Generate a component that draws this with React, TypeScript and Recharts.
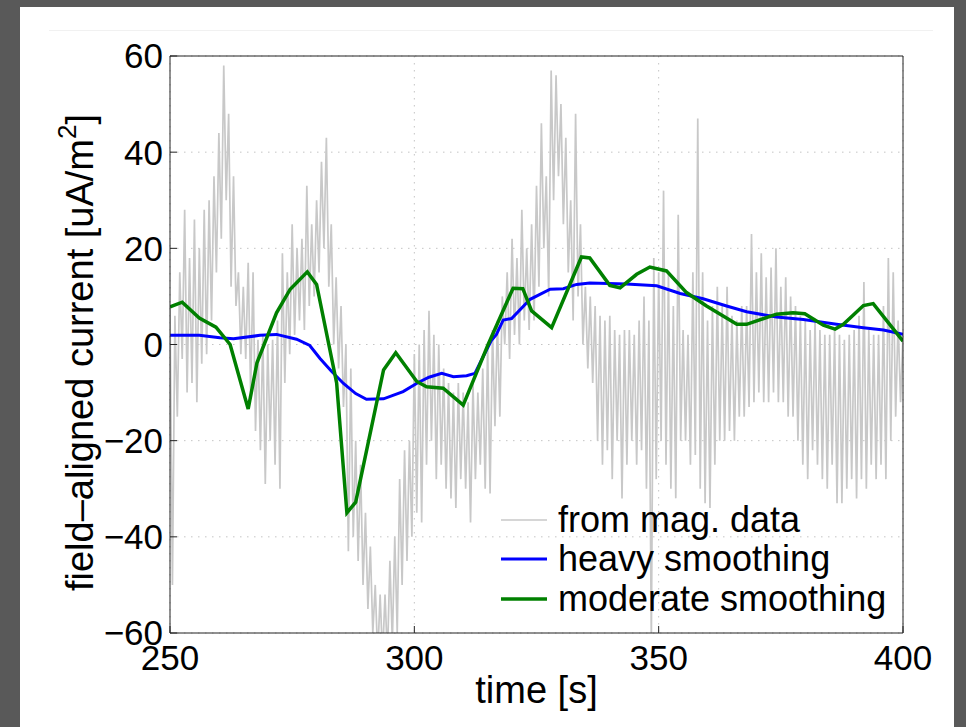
import { CartesianGrid, Legend, Line, LineChart, XAxis, YAxis } from 'recharts'

const FONT = '"Liberation Sans", Arial, Helvetica, sans-serif'

// raw current from magnetometer data: upper / lower swing of each 1 s slot, starting at 250 s
const magStart = 250
const magHi = [
  8, 6, 15, 28, 18, 26, 20, 28, 30, 35,
  44, 58, 48, 35, 15, 12, 17, 15, 1, 2,
  0, 1, 5, 19, 15, 25, 20, 22, 33, 25,
  30, 38, 43, 25, 14, 8, 0, -5, -20, -25,
  -35, -42, -50, -52, -52, -45, -40, -28, -22, -20,
  -2, 0, 3, 7, 2, 0, -5, -8, -10, -8,
  -10, -12, -8, -10, -5, 0, 3, 5, 10, 15,
  22, 18, 28, 20, 25, 33, 46, 35, 57, 56,
  50, 43, 30, 48, 25, 12, 10, 8, 6, 5,
  6, 3, 2, 3, 3, 2, 5, 10, 5, 18,
  15, 32, 15, 8, 27, 3, 2, 15, 47, 15,
  5, 8, 12, 8, 12, 6, 5, 8, 8, 23,
  15, 19, 14, 16, 20, 12, 14, 10, 8, 6,
  5, 3, 5, 3, 2, 2, 3, 2, 1, 2,
  3, 6, 13, 3, 2, 2, 8, 18, 15, 5,
  2,
]
const magLo = [
  -50, -15, -3, -10, -8, -12, -4, -2, 5, 15,
  22, 30, 12, 8, -2, -3, -10, -18, -22, -29,
  -20, -25, -30, -8, -2, 2, 5, 3, 8, 10,
  15, 20, 12, 0, -5, -13, -43, -40, -45, -50,
  -55, -60, -65, -65, -65, -62, -60, -50, -45, -40,
  -35, -37, -25, -20, -28, -25, -30, -32, -34, -28,
  -30, -37, -28, -25, -30, -31, -17, -15, 0, -3,
  2, 0, 5, 3, 5, 12, 20, 10, 30, 35,
  25, 15, 5, 10, 0, -5, -8, -20, -25, -22,
  -28, -20, -32, -25, -20, -25, -22, -30, -62, -28,
  -20, -25, -30, -32, -20, -20, -25, -23, -30, -33,
  -34, -25, -20, -20, -18, -20, -15, -15, -13, -12,
  -10, -12, -12, -10, -12, -12, -15, -15, -20, -25,
  -28, -22, -25, -28, -30, -25, -33, -33, -30, -28,
  -32, -28, -30, -25, -28, -25, -28, -20, -15, -12,
  -8,
]

const heavyTime = [
  250, 256, 260.2, 263, 268.4, 271.8, 275.9, 278.6, 280.7, 283, 285.5, 288, 290.2, 293.7,
  297.7, 300.8, 303, 305.6, 308, 310.7, 312.4, 314.1, 315.8, 316.8, 318.2, 319.9, 323.7,
  327.8, 330.5, 333.2, 335.9, 343.4, 349.6, 354.4, 359.1, 363.9, 368, 374.1, 379.6, 386.4,
  391.9, 396, 400,
]
const heavyValue = [
  1.9, 1.9, 1.4, 1.2, 1.9, 2.1, 1.1, -0.2, -2.9, -5.5, -8.1, -10.2, -11.4, -11.3,
  -9.8, -7.9, -6.8, -6, -6.7, -6.5, -6, -2.5, 0.9, 2.1, 5.1, 5.4, 9.4,
  11.5, 11.6, 12.5, 12.8, 12.6, 12.2, 10.6, 9.5, 8, 6.8, 5.7, 5.2, 4.2,
  3.5, 3, 2.1,
]

const moderateTime = [
  250, 252.5, 256, 259.4, 262.3, 266, 267.8, 271.8, 274.6, 278.1, 280, 284.1, 286.2, 288,
  293.7, 296.2, 300.5, 302.5, 305.9, 310, 315.1, 320.2, 322.2, 324, 328.1, 334.2, 335.9,
  340, 342.1, 345.5, 348.2, 351.6, 355.7, 359.8, 366, 368, 374.1, 377.5, 379.9, 383.7,
  386.1, 387.8, 391.9, 393.9, 400,
]
const moderateValue = [
  7.8, 8.8, 5.5, 3.6, 0, -13.4, -3.8, 6.6, 11.5, 15.1, 12.5, -8, -35, -32.8,
  -5.3, -1.7, -7.7, -8.8, -9.1, -12.6, 0, 11.7, 11.6, 7, 3.5, 18.2, 18,
  12.3, 11.8, 14.6, 16.1, 15.3, 10.8, 8, 4.2, 4.2, 6.3, 6.6, 6.4, 4,
  3.2, 4.2, 8.1, 8.5, 0.7,
]

const xTicks = [250, 300, 350, 400]
const yTicks = [-60, -40, -20, 0, 20, 40, 60]

const magData = magHi.flatMap((hi, i) => [
  { t: magStart + i, v: hi },
  { t: magStart + i + 0.5, v: magLo[i] },
])
const heavyData = heavyTime.map((t, i) => ({ t, v: heavyValue[i] }))
const moderateData = moderateTime.map((t, i) => ({ t, v: moderateValue[i] }))

const minus = (v: number) => String(v).replace('-', '\u2212')

function LegendBox({ payload }: any) {
  return (
    <div style={{ fontFamily: FONT, fontSize: 36, color: '#000' }}>
      {(payload || []).map((entry: any) => (
        <div key={entry.value} style={{ display: 'flex', alignItems: 'center', height: 39.5 }}>
          <svg width={47} height={8}>
            <line
              x1={0}
              y1={4}
              x2={46}
              y2={4}
              stroke={entry.color}
              strokeWidth={entry.payload?.strokeWidth ?? 2}
            />
          </svg>
          <span style={{ marginLeft: 10, lineHeight: 1 }}>{entry.value}</span>
        </div>
      ))}
    </div>
  )
}

function YTitle({ viewBox }: any) {
  const x = viewBox.x + 10
  const y = viewBox.y + viewBox.height / 2 + 8
  return (
    <text
      x={x}
      y={y}
      transform={`rotate(-90, ${x}, ${y})`}
      textAnchor="middle"
      dominantBaseline="central"
      fontFamily={FONT}
      fontSize={38}
      fill="#000"
    >
      field–aligned current [uA/m<tspan dy={-13} fontSize={26}>2</tspan>
      <tspan dy={13}>]</tspan>
    </text>
  )
}

function XTitle({ viewBox }: any) {
  return (
    <text
      x={viewBox.x + viewBox.width / 2}
      y={viewBox.y + 70}
      textAnchor="middle"
      fontFamily={FONT}
      fontSize={38}
      fill="#000"
    >
      time [s]
    </text>
  )
}

export default function App() {
  const tickStyle = { fontSize: 35, fill: '#000', fontFamily: FONT }
  return (
    <div style={{ position: 'absolute', left: 0, top: 0, width: 966, height: 727, background: '#595959', overflow: 'hidden' }}>
      <div style={{ position: 'absolute', left: 20, top: 7, width: 934, height: 720, background: '#fff' }} />
      <div style={{ position: 'absolute', left: 49, top: 30, width: 884, height: 1, background: '#f1f1f1' }} />
      <div style={{ position: 'absolute', left: 0, top: 0 }}>
        <LineChart width={966} height={727} margin={{ top: 55, right: 62, bottom: 34, left: 70 }}>
          <CartesianGrid stroke="#c4c4c4" strokeDasharray="1.5 5.5" />
          <XAxis
            dataKey="t"
            type="number"
            domain={[250, 400]}
            ticks={xTicks}
            interval={0}
            allowDataOverflow
            height={60}
            tickSize={-7}
            tickMargin={19}
            tick={tickStyle}
            stroke="#222"
            label={<XTitle />}
          />
          <XAxis
            xAxisId="top"
            orientation="top"
            type="number"
            domain={[250, 400]}
            ticks={xTicks}
            interval={0}
            height={1}
            tickSize={-7}
            tick={false}
            stroke="#222"
          />
          <YAxis
            type="number"
            domain={[-60, 60]}
            ticks={yTicks}
            interval={0}
            allowDataOverflow
            width={100}
            tickSize={-7}
            tickMargin={14}
            tick={tickStyle}
            tickFormatter={minus}
            stroke="#222"
            label={<YTitle />}
          />
          <YAxis
            yAxisId="r"
            orientation="right"
            type="number"
            domain={[-60, 60]}
            ticks={yTicks}
            interval={0}
            width={1}
            tickSize={-7}
            tick={false}
            stroke="#222"
          />
          <Legend
            layout="vertical"
            align="center"
            verticalAlign="middle"
            content={<LegendBox />}
            wrapperStyle={{ left: 501, top: 500, width: 440 }}
          />
          <Line
            data={magData}
            dataKey="v"
            name="from mag. data"
            stroke="#c8c8c8"
            strokeWidth={1.7}
            dot={false}
            activeDot={false}
            isAnimationActive={false}
          />
          <Line
            data={heavyData}
            dataKey="v"
            name="heavy smoothing"
            stroke="#0000ff"
            strokeWidth={3}
            dot={false}
            activeDot={false}
            isAnimationActive={false}
          />
          <Line
            data={moderateData}
            dataKey="v"
            name="moderate smoothing"
            stroke="#008000"
            strokeWidth={3.5}
            dot={false}
            activeDot={false}
            isAnimationActive={false}
          />
        </LineChart>
      </div>
    </div>
  )
}
